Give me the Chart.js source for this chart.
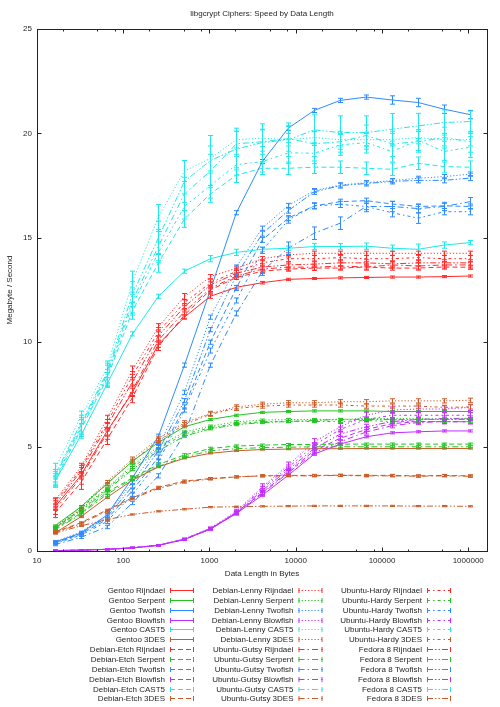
<!DOCTYPE html>
<html>
<head>
<meta charset="utf-8">
<script src="https://cdn.jsdelivr.net/npm/chart.js@4.4.1/dist/chart.umd.min.js"></script>
<style>
  html, body { margin: 0; padding: 0; background: #fff; }
  canvas { display: block; }
</style>
</head>
<body>
<canvas id="speedChart" width="500" height="707"></canvas>
<script>
// --- data (MB/s), one row per cipher ---
const blockSizes = [16, 32, 64, 128, 256, 512, 1024, 2048, 4096, 8192, 16384, 32768, 65536, 131072, 262144, 524288, 1048576];
const distros = ['Gentoo', 'Debian-Etch', 'Debian-Lenny', 'Ubuntu-Gutsy', 'Ubuntu-Hardy', 'Fedora 8'];
const ciphers = ['Rijndael', 'Serpent', 'Twofish', 'Blowfish', 'CAST5', '3DES'];
const xTickValues = [10, 100, 1000, 10000, 100000, 1000000];
const xMinorTicks = [20, 50, 80, 200, 500, 800, 2000, 5000, 8000, 20000, 50000, 80000, 200000, 500000, 800000];
const yTickValues = [0, 5, 10, 15, 20, 25];

const gentoo = [
  [2.1, 3.6, 5.7, 7.6, 9.9, 11.2, 12.2, 12.63, 12.85, 13.01, 13.05, 13.08, 13.1, 13.12, 13.12, 13.14, 13.17],
  [1.2, 2.1, 3.2, 4.3, 5.2, 5.95, 6.3, 6.5, 6.64, 6.68, 6.71, 6.71, 6.71, 6.68, 6.68, 6.68, 6.68],
  [0.42, 0.85, 1.7, 3.5, 5.5, 8.9, 12.5, 16.2, 18.65, 20.25, 21.1, 21.58, 21.74, 21.6, 21.48, 21.16, 20.9],
  [0.02, 0.04, 0.08, 0.15, 0.27, 0.55, 1.05, 1.8, 2.67, 3.63, 4.64, 5.12, 5.47, 5.66, 5.71, 5.75, 5.75],
  [3.3, 5.5, 7.95, 10.4, 12.2, 13.4, 14.0, 14.3, 14.45, 14.5, 14.58, 14.58, 14.6, 14.5, 14.45, 14.65, 14.77],
  [0.85, 1.63, 2.55, 3.39, 4.03, 4.44, 4.68, 4.8, 4.86, 4.88, 4.9, 4.9, 4.91, 4.91, 4.91, 4.91, 4.91]
];
const debianEtch = [
  [1.8, 3.25, 5.3, 7.35, 9.8, 11.3, 12.5, 13.1, 13.4, 13.5, 13.55, 13.55, 13.6, 13.55, 13.55, 13.6, 13.59],
  [1.05, 1.8, 2.8, 3.5, 4.15, 4.6, 4.91, 5.03, 5.07, 5.1, 5.1, 5.12, 5.12, 5.12, 5.12, 5.12, 5.12],
  [0.38, 0.8, 1.5, 2.9, 4.5, 6.9, 10.0, 12.6, 14.9, 15.94, 16.53, 16.73, 16.78, 16.62, 16.5, 16.53, 16.5],
  [0.02, 0.04, 0.08, 0.15, 0.28, 0.56, 1.07, 1.82, 2.8, 3.8, 4.8, 5.4, 5.82, 6.1, 6.2, 6.19, 6.19],
  [3.3, 5.8, 8.2, 11.5, 13.8, 15.9, 17.1, 18.0, 18.33, 18.33, 18.38, 18.38, 18.33, 18.28, 18.57, 18.41, 18.38],
  [0.9, 1.35, 1.95, 2.55, 3.05, 3.35, 3.47, 3.55, 3.6, 3.62, 3.62, 3.63, 3.62, 3.62, 3.6, 3.62, 3.6]
];
const debianLenny = [
  [2.4, 4.0, 6.3, 8.66, 10.74, 12.18, 13.14, 13.54, 14.0, 14.18, 14.26, 14.26, 14.26, 14.26, 14.26, 14.26, 14.26],
  [1.15, 2.0, 3.0, 4.1, 5.0, 5.7, 5.98, 6.19, 6.27, 6.3, 6.3, 6.3, 6.35, 6.35, 6.35, 6.3, 6.35],
  [0.45, 0.9, 1.7, 3.3, 5.0, 7.6, 11.2, 13.6, 15.46, 16.55, 17.26, 17.53, 17.64, 17.74, 17.85, 17.93, 18.05],
  [0.02, 0.04, 0.08, 0.15, 0.28, 0.58, 1.1, 1.9, 3.07, 4.11, 5.23, 5.95, 6.5, 6.75, 6.8, 6.8, 6.88],
  [3.9, 6.4, 8.7, 12.9, 16.0, 18.2, 18.8, 19.7, 19.77, 19.7, 19.8, 19.7, 19.7, 19.7, 19.8, 19.7, 19.7],
  [1.1, 2.1, 3.3, 4.4, 5.4, 6.14, 6.59, 6.9, 7.03, 7.1, 7.1, 7.15, 7.15, 7.19, 7.19, 7.19, 7.22]
];
const ubuntuGutsy = [
  [1.95, 3.5, 5.6, 7.7, 10.1, 11.46, 12.58, 13.17, 13.5, 13.6, 13.59, 13.65, 13.6, 13.7, 13.65, 13.7, 13.7],
  [1.0, 1.75, 2.7, 3.45, 4.05, 4.5, 4.8, 4.9, 4.95, 4.97, 4.99, 4.99, 4.99, 4.99, 4.99, 4.99, 4.99],
  [0.3, 0.65, 1.15, 2.3, 3.6, 5.6, 8.9, 11.38, 13.4, 14.5, 15.22, 15.7, 16.5, 16.5, 16.4, 16.5, 16.73],
  [0.02, 0.04, 0.08, 0.15, 0.27, 0.55, 1.05, 1.8, 2.75, 3.75, 4.7, 5.23, 5.7, 6.0, 6.15, 6.2, 6.19],
  [3.5, 6.0, 8.4, 12.0, 14.6, 17.1, 18.2, 19.5, 19.6, 19.75, 19.5, 19.6, 19.9, 19.5, 19.6, 19.8, 19.6],
  [0.88, 1.3, 1.9, 2.5, 3.0, 3.3, 3.45, 3.55, 3.6, 3.6, 3.6, 3.62, 3.6, 3.6, 3.58, 3.6, 3.58]
];
const ubuntuHardy = [
  [2.3, 3.9, 6.1, 8.4, 10.5, 11.9, 12.84, 13.4, 13.8, 14.0, 14.0, 14.05, 14.0, 14.0, 14.05, 14.0, 14.0],
  [1.12, 1.95, 2.95, 4.0, 4.9, 5.6, 5.9, 6.11, 6.19, 6.22, 6.2, 6.2, 6.25, 6.2, 6.2, 6.2, 6.19],
  [0.35, 0.75, 1.4, 2.7, 4.27, 6.75, 9.6, 12.0, 14.4, 15.85, 16.53, 16.6, 16.5, 16.2, 15.94, 16.25, 16.25],
  [0.02, 0.04, 0.08, 0.15, 0.28, 0.57, 1.08, 1.85, 3.0, 4.0, 5.07, 5.82, 6.3, 6.5, 6.5, 6.5, 6.5],
  [3.4, 5.9, 8.3, 11.8, 14.3, 16.5, 17.5, 18.5, 18.65, 19.07, 19.05, 19.45, 19.56, 19.13, 19.68, 19.13, 19.34],
  [1.05, 2.0, 3.2, 4.3, 5.3, 6.05, 6.55, 6.83, 6.94, 6.99, 6.99, 6.99, 6.94, 6.94, 6.94, 6.88, 6.9]
];
const fedora8 = [
  [2.2, 3.8, 5.95, 8.1, 10.3, 11.7, 12.74, 13.3, 13.6, 13.7, 13.74, 13.8, 13.8, 13.75, 13.8, 13.8, 13.8],
  [1.1, 1.9, 2.9, 3.9, 4.8, 5.5, 5.85, 6.05, 6.15, 6.2, 6.25, 6.3, 6.3, 6.3, 6.3, 6.3, 6.3],
  [0.4, 0.85, 1.6, 3.1, 4.8, 7.2, 10.6, 13.2, 15.2, 16.3, 17.2, 17.5, 17.6, 17.7, 17.75, 17.75, 17.86],
  [0.02, 0.04, 0.08, 0.15, 0.27, 0.56, 1.06, 1.83, 2.9, 3.9, 4.91, 5.6, 5.95, 6.2, 6.3, 6.35, 6.35],
  [3.6, 6.1, 8.5, 12.3, 15.0, 17.7, 18.7, 19.25, 19.56, 19.7, 20.17, 20.04, 20.04, 20.2, 20.36, 20.52, 20.57],
  [0.85, 1.2, 1.5, 1.75, 1.9, 2.0, 2.1, 2.12, 2.14, 2.15, 2.16, 2.16, 2.16, 2.16, 2.15, 2.15, 2.14]
];

// +/- error (MB/s)
const gentooErr = [
  [0.15, 0.15, 0.15, 0.2, 0.15, 0.1, 0.1, 0.08, 0.06, 0.05, 0.05, 0.05, 0.05, 0.05, 0.05, 0.05, 0.05],
  [0.05, 0.05, 0.05, 0.05, 0.05, 0.05, 0.05, 0.05, 0.05, 0.05, 0.05, 0.05, 0.05, 0.05, 0.05, 0.05, 0.05],
  [0.05, 0.05, 0.08, 0.1, 0.1, 0.1, 0.1, 0.1, 0.1, 0.1, 0.1, 0.1, 0.1, 0.2, 0.2, 0.2, 0.2],
  [0.02, 0.02, 0.02, 0.02, 0.03, 0.04, 0.05, 0.05, 0.05, 0.05, 0.05, 0.05, 0.05, 0.05, 0.05, 0.05, 0.05],
  [0.15, 0.1, 0.1, 0.1, 0.1, 0.1, 0.15, 0.15, 0.1, 0.1, 0.15, 0.15, 0.15, 0.15, 0.25, 0.15, 0.1],
  [0.03, 0.03, 0.03, 0.03, 0.03, 0.03, 0.03, 0.03, 0.03, 0.03, 0.03, 0.03, 0.03, 0.03, 0.03, 0.03, 0.03]
];
const debianEtchErr = [
  [0.2, 0.3, 0.2, 0.25, 0.2, 0.15, 0.15, 0.1, 0.1, 0.1, 0.1, 0.1, 0.1, 0.1, 0.1, 0.1, 0.1],
  [0.08, 0.08, 0.1, 0.08, 0.08, 0.06, 0.06, 0.05, 0.05, 0.05, 0.05, 0.05, 0.05, 0.05, 0.05, 0.05, 0.05],
  [0.05, 0.05, 0.08, 0.08, 0.1, 0.1, 0.1, 0.12, 0.12, 0.12, 0.12, 0.12, 0.12, 0.12, 0.12, 0.12, 0.12],
  [0.02, 0.02, 0.02, 0.03, 0.03, 0.04, 0.05, 0.08, 0.1, 0.1, 0.1, 0.1, 0.1, 0.1, 0.1, 0.1, 0.1],
  [0.25, 0.3, 0.35, 0.4, 0.45, 0.4, 0.4, 0.35, 0.3, 0.3, 0.3, 0.3, 0.3, 0.3, 0.3, 0.3, 0.3],
  [0.05, 0.05, 0.05, 0.05, 0.05, 0.05, 0.05, 0.05, 0.05, 0.05, 0.05, 0.05, 0.05, 0.05, 0.05, 0.05, 0.05]
];
const debianLennyErr = [
  [0.15, 0.2, 0.2, 0.2, 0.15, 0.15, 0.1, 0.1, 0.1, 0.1, 0.1, 0.1, 0.1, 0.1, 0.1, 0.1, 0.1],
  [0.05, 0.05, 0.05, 0.05, 0.05, 0.05, 0.05, 0.05, 0.05, 0.05, 0.05, 0.05, 0.05, 0.05, 0.05, 0.05, 0.05],
  [0.05, 0.05, 0.08, 0.08, 0.1, 0.1, 0.1, 0.1, 0.1, 0.1, 0.1, 0.1, 0.1, 0.1, 0.1, 0.1, 0.1],
  [0.02, 0.02, 0.02, 0.03, 0.03, 0.04, 0.05, 0.1, 0.15, 0.15, 0.15, 0.15, 0.15, 0.15, 0.15, 0.15, 0.15],
  [0.3, 0.3, 0.4, 0.5, 0.6, 0.5, 0.6, 0.4, 0.4, 0.3, 0.3, 0.3, 0.3, 0.3, 0.3, 0.3, 0.3],
  [0.08, 0.08, 0.08, 0.1, 0.1, 0.1, 0.1, 0.1, 0.1, 0.1, 0.1, 0.1, 0.1, 0.1, 0.1, 0.1, 0.1]
];
const ubuntuGutsyErr = [
  [0.2, 0.3, 0.25, 0.25, 0.2, 0.15, 0.15, 0.15, 0.15, 0.15, 0.15, 0.15, 0.15, 0.15, 0.15, 0.15, 0.15],
  [0.05, 0.05, 0.08, 0.08, 0.06, 0.05, 0.05, 0.05, 0.05, 0.05, 0.05, 0.05, 0.05, 0.05, 0.05, 0.05, 0.05],
  [0.05, 0.05, 0.08, 0.08, 0.1, 0.1, 0.1, 0.12, 0.2, 0.3, 0.3, 0.3, 0.25, 0.25, 0.2, 0.2, 0.2],
  [0.02, 0.02, 0.02, 0.03, 0.03, 0.04, 0.05, 0.08, 0.1, 0.1, 0.1, 0.1, 0.1, 0.1, 0.1, 0.1, 0.1],
  [0.3, 0.4, 0.5, 0.6, 0.7, 0.8, 0.8, 0.6, 0.6, 0.6, 0.6, 0.5, 0.5, 0.6, 0.5, 0.5, 0.5],
  [0.05, 0.05, 0.05, 0.05, 0.05, 0.05, 0.05, 0.05, 0.05, 0.05, 0.05, 0.05, 0.05, 0.05, 0.05, 0.05, 0.05]
];
const ubuntuHardyErr = [
  [0.2, 0.2, 0.2, 0.2, 0.2, 0.15, 0.15, 0.15, 0.15, 0.15, 0.15, 0.15, 0.15, 0.15, 0.15, 0.15, 0.15],
  [0.05, 0.05, 0.05, 0.05, 0.05, 0.05, 0.05, 0.05, 0.05, 0.05, 0.05, 0.05, 0.05, 0.05, 0.05, 0.05, 0.05],
  [0.05, 0.05, 0.08, 0.08, 0.1, 0.1, 0.12, 0.12, 0.15, 0.15, 0.15, 0.15, 0.15, 0.2, 0.25, 0.15, 0.15],
  [0.02, 0.02, 0.02, 0.03, 0.03, 0.04, 0.05, 0.08, 0.1, 0.12, 0.12, 0.12, 0.12, 0.12, 0.12, 0.12, 0.12],
  [0.3, 0.4, 0.4, 0.5, 0.5, 0.6, 0.6, 0.5, 0.5, 0.5, 0.5, 0.5, 0.5, 0.5, 0.5, 0.5, 0.5],
  [0.08, 0.08, 0.08, 0.1, 0.1, 0.1, 0.1, 0.1, 0.1, 0.1, 0.1, 0.1, 0.1, 0.1, 0.1, 0.1, 0.1]
];
const fedora8Err = [
  [0.2, 0.2, 0.2, 0.2, 0.2, 0.15, 0.15, 0.15, 0.15, 0.15, 0.15, 0.15, 0.15, 0.15, 0.15, 0.15, 0.15],
  [0.05, 0.05, 0.05, 0.05, 0.05, 0.05, 0.05, 0.05, 0.05, 0.05, 0.05, 0.05, 0.05, 0.05, 0.05, 0.05, 0.05],
  [0.05, 0.05, 0.08, 0.08, 0.1, 0.1, 0.1, 0.1, 0.12, 0.12, 0.12, 0.12, 0.12, 0.12, 0.12, 0.12, 0.12],
  [0.02, 0.02, 0.02, 0.03, 0.03, 0.04, 0.05, 0.08, 0.1, 0.12, 0.12, 0.12, 0.12, 0.12, 0.12, 0.12, 0.12],
  [0.3, 0.4, 0.5, 0.6, 0.8, 1.0, 1.2, 1.0, 0.9, 0.8, 0.75, 0.8, 0.8, 0.75, 0.6, 0.6, 0.5],
  [0.03, 0.03, 0.03, 0.03, 0.03, 0.03, 0.03, 0.03, 0.03, 0.03, 0.03, 0.03, 0.03, 0.03, 0.03, 0.03, 0.03]
];

const speedByDistro = [gentoo, debianEtch, debianLenny, ubuntuGutsy, ubuntuHardy, fedora8];
const errorByDistro = [gentooErr, debianEtchErr, debianLennyErr, ubuntuGutsyErr, ubuntuHardyErr, fedora8Err];

// --- styles ---
const cipherColors = ['#ff2a2a', '#22c422', '#2e8aff', '#c22cff', '#1ee8e8', '#cc5a26'];
const distroDash = [[], [5, 3], [1.2, 2], [6, 3, 1.5, 3], [3, 3, 1.5, 3], [6, 2, 1.5, 2, 1.5, 2]];
const FONT = '"Liberation Sans", Arial, sans-serif';
const TEXT = '#262626';

const datasets = [];
distros.forEach((distro, d) => {
  ciphers.forEach((cipher, c) => {
    datasets.push({
      label: distro + ' ' + cipher,
      data: blockSizes.map((x, i) => ({ x: x, y: speedByDistro[d][c][i] })),
      errors: errorByDistro[d][c],
      borderColor: cipherColors[c],
      borderDash: distroDash[d],
      borderWidth: 1,
      pointRadius: 0,
      tension: 0,
      fill: false
    });
  });
});

// error bars drawn through the chart's own scales
const errorBars = {
  id: 'errorBars',
  afterDatasetsDraw(chart) {
    const ctx = chart.ctx, xs = chart.scales.x, ys = chart.scales.y, a = chart.chartArea;
    ctx.save();
    ctx.beginPath();
    ctx.rect(a.left, a.top, a.right - a.left, a.bottom - a.top);
    ctx.clip();
    ctx.lineWidth = 1;
    chart.data.datasets.forEach(ds => {
      ctx.strokeStyle = ds.borderColor;
      ds.data.forEach((p, i) => {
        const e = ds.errors[i];
        const px = Math.round(xs.getPixelForValue(p.x)) + 0.5;
        const y1 = ys.getPixelForValue(p.y - e);
        const y2 = ys.getPixelForValue(p.y + e);
        ctx.beginPath();
        ctx.moveTo(px, y1); ctx.lineTo(px, y2);
        ctx.moveTo(px - 2.5, y1); ctx.lineTo(px + 2.5, y1);
        ctx.moveTo(px - 2.5, y2); ctx.lineTo(px + 2.5, y2);
        ctx.stroke();
      });
    });
    ctx.restore();
  }
};

// frame, ticks, titles and the three-column key
const decorations = {
  id: 'decorations',
  afterDraw(chart) {
    const ctx = chart.ctx, xs = chart.scales.x, ys = chart.scales.y, a = chart.chartArea;
    const L = Math.round(a.left) + 0.5, R = Math.round(a.right) + 0.5;
    const T = Math.round(a.top) + 0.5, B = Math.round(a.bottom) + 0.5;
    ctx.save();
    ctx.strokeStyle = '#222';
    ctx.lineWidth = 1;
    ctx.strokeRect(L, T, R - L, B - T);
    ctx.beginPath();
    xTickValues.forEach(v => {
      const px = Math.round(xs.getPixelForValue(v)) + 0.5;
      ctx.moveTo(px, B); ctx.lineTo(px, B - 4);
      ctx.moveTo(px, T); ctx.lineTo(px, T + 4);
    });
    xMinorTicks.forEach(v => {
      const px = Math.round(xs.getPixelForValue(v)) + 0.5;
      ctx.moveTo(px, B); ctx.lineTo(px, B - 2);
      ctx.moveTo(px, T); ctx.lineTo(px, T + 2);
    });
    yTickValues.forEach(v => {
      const py = Math.round(ys.getPixelForValue(v)) + 0.5;
      ctx.moveTo(L, py); ctx.lineTo(L + 4, py);
      ctx.moveTo(R, py); ctx.lineTo(R - 4, py);
    });
    ctx.stroke();

    ctx.fillStyle = TEXT;
    ctx.font = '8px ' + FONT;
    ctx.textAlign = 'center';
    ctx.textBaseline = 'middle';
    ctx.fillText('libgcrypt Ciphers: Speed by Data Length', (a.left + a.right) / 2, 14);
    ctx.fillText('Data Length in Bytes', (a.left + a.right) / 2, 574);
    ctx.save();
    ctx.translate(10, (a.top + a.bottom) / 2);
    ctx.rotate(-Math.PI / 2);
    ctx.fillText('Megabyte / Second', 0, 0);
    ctx.restore();

    // key
    chart.data.datasets.forEach((ds, k) => {
      const col = Math.floor(k / 12), row = k % 12;
      const textRight = 165 + col * 128.5;
      const y = Math.round(590 + row * 9.85) + 0.5;
      ctx.fillStyle = TEXT;
      ctx.textAlign = 'right';
      ctx.fillText(ds.label, textRight, y);
      const x1 = textRight + 5, x2 = textRight + 29;
      ctx.strokeStyle = ds.borderColor;
      ctx.setLineDash(ds.borderDash);
      ctx.beginPath();
      ctx.moveTo(x1, y); ctx.lineTo(x2, y);
      ctx.stroke();
      ctx.setLineDash([]);
      ctx.beginPath();
      ctx.moveTo(x1 + 0.5, y - 2.5); ctx.lineTo(x1 + 0.5, y + 2.5);
      ctx.moveTo(x2 - 0.5, y - 2.5); ctx.lineTo(x2 - 0.5, y + 2.5);
      ctx.stroke();
    });
    ctx.restore();
  }
};

new Chart(document.getElementById('speedChart').getContext('2d'), {
  type: 'line',
  data: { datasets: datasets },
  plugins: [errorBars, decorations],
  options: {
    responsive: false,
    animation: false,
    devicePixelRatio: 1,
    layout: { padding: { top: 29, right: 13, bottom: 126, left: 0 } },
    plugins: { legend: { display: false }, title: { display: false }, tooltip: { enabled: false } },
    scales: {
      x: {
        type: 'logarithmic',
        min: 10,
        max: 1650000,
        grid: { display: false, drawTicks: false },
        border: { display: false },
        afterBuildTicks: s => { s.ticks = xTickValues.map(v => ({ value: v })); },
        afterFit: s => { s.height = 30; },
        ticks: {
          autoSkip: false, maxRotation: 0, padding: 5, color: TEXT,
          font: { size: 8, family: FONT },
          callback: v => String(v)
        }
      },
      y: {
        min: 0,
        max: 25,
        grid: { display: false, drawTicks: false },
        border: { display: false },
        afterBuildTicks: s => { s.ticks = yTickValues.map(v => ({ value: v })); },
        afterFit: s => { s.width = 37; },
        ticks: { padding: 5, color: TEXT, font: { size: 8, family: FONT } }
      }
    }
  }
});
</script>
</body>
</html>
